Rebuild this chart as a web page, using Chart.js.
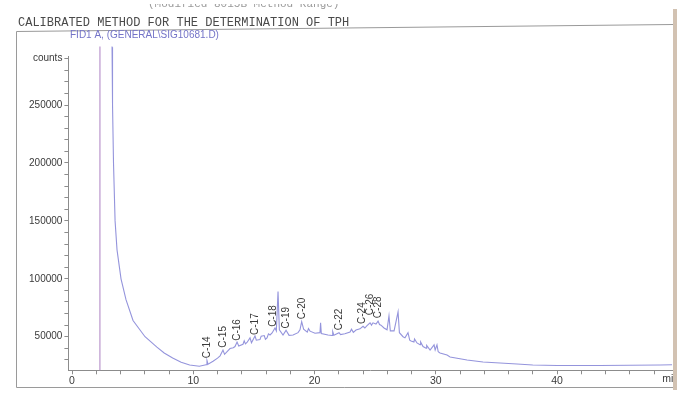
<!DOCTYPE html>
<html>
<head>
<meta charset="utf-8">
<script src="https://cdn.jsdelivr.net/npm/chart.js@4.4.0/dist/chart.umd.min.js"></script>
<style>
  html, body { margin: 0; padding: 0; background: #fff; }
  canvas { display: block; }
</style>
</head>
<body>
<canvas id="chromChart" width="697" height="394"></canvas>
<script>
// Trace: retention time (min) vs detector counts
const retentionTimes = [
  0, 2.30, 2.32, 3.29, 3.30, 3.34, 3.42, 3.55, 3.71, 4.04, 4.45, 5.03, 6.02, 7.00,
  7.60, 8.30, 9.00, 9.70, 10.50, 11.05, 11.13, 11.22, 11.63, 12.00, 12.21, 12.45, 12.58, 13.03,
  13.30, 13.44, 13.61, 13.75, 14.10, 14.20, 14.30, 14.43, 14.68, 14.80, 15.09, 15.20, 15.50, 15.60, 15.85, 15.95, 16.08,
  16.20, 16.33, 16.50, 16.74, 16.85, 16.99, 17.10, 17.40, 17.65, 17.90, 18.23, 18.64, 18.80, 18.94, 19.10,
  19.40, 19.50, 19.63, 20.04, 20.45, 20.50, 20.56, 21.11, 21.45, 21.50, 21.60, 22.02, 22.15, 22.50, 22.93, 23.05, 23.20, 23.42,
  23.75, 24.00, 24.15, 24.33, 24.58, 24.70, 24.82, 25.07, 25.24, 25.36, 25.48, 25.73, 25.98, 26.14,
  26.25, 26.56, 26.89, 27.00, 27.30, 27.46, 27.71, 27.85, 27.96, 28.20, 28.25, 28.45, 28.70, 28.75, 28.95, 29.20, 29.25, 29.53, 29.86, 29.95,
  30.10, 30.20, 30.35, 30.93, 31.18, 32.58, 33.90, 35.30, 36.70, 38.00, 40.00, 43.50, 46.00, 48.50, 49.50
];
const counts = [
  18000, 18000, 3000000, 3000000, 300000, 250000, 200000, 150000, 125000, 100000, 82000, 64000, 50000, 41000,
  36000, 31600, 28000, 25600, 24500, 25800, 29500, 26200, 28800, 31500, 33500, 38500, 34800, 39800,
  40500, 41500, 45400, 42000, 43500, 46500, 43800, 45000, 49000, 44800, 50600, 47000, 47500, 50500, 51000, 47800, 49000,
  52500, 51500, 53200, 57500, 55000, 89000, 56000, 51500, 55500, 51200, 51500, 53500, 56000, 63000, 56500,
  54000, 57000, 54800, 53000, 53500, 62000, 52800, 51500, 51000, 54500, 51200, 53500, 51800, 52500, 54000, 56500, 53800, 55800,
  56800, 59000, 57500, 59500, 62000, 60000, 62000, 61000, 63500, 60500, 60000, 57500, 56000, 68000,
  55000, 55000, 71500, 53500, 50000, 49000, 53500, 47000, 46300, 45500, 48000, 44600, 43000, 45500, 41500, 40000, 42500, 38500, 43000, 38500,
  43000, 37000, 36000, 34200, 32500, 29900, 28200, 27300, 26400, 25600, 25200, 25100, 25300, 25600, 25800
];

// n-alkane peak annotations
const peakNames = ['C-14', 'C-15', 'C-16', 'C-17', 'C-18', 'C-19', 'C-20', 'C-22', 'C-24', 'C-26', 'C-28'];
const peakTimes = [11.13, 12.45, 13.61, 15.09, 16.62, 17.70, 18.97, 22.02, 23.92, 24.58, 25.24];
const peakLabelCounts = [31500, 40500, 46500, 51500, 58500, 57000, 65000, 55500, 61000, 68500, 66000];

// axis ticks (minor every 2 min / 10000 counts)
const xTickValues = [0, 2, 4, 6, 8, 10, 12, 14, 16, 18, 20, 22, 24, 26, 28, 30, 32, 34, 36, 38, 40, 42, 44, 46, 48];
const yTickValues = [30000, 40000, 50000, 60000, 70000, 80000, 90000, 100000, 110000, 120000, 130000, 140000,
  150000, 160000, 170000, 180000, 190000, 200000, 210000, 220000, 230000, 240000, 250000, 260000, 270000, 280000, 290000];

const titleText = 'CALIBRATED METHOD FOR THE DETERMINATION OF TPH';
const headerText = '(Modified 8015B Method Range)';
const signalText = 'FID1 A, (GENERAL\\SIG10681.D)';

const pagePlugin = {
  id: 'page',
  beforeDraw(chart) {
    const ctx = chart.ctx;
    ctx.save();
    ctx.fillStyle = '#ffffff';
    ctx.fillRect(0, 0, chart.width, chart.height);
    ctx.restore();
  },
  afterDraw(chart) {
    const ctx = chart.ctx;
    const xs = chart.scales.x;
    const ys = chart.scales.y;
    const area = chart.chartArea;
    ctx.save();

    // cut-off header line at the very top of the scan
    ctx.save();
    ctx.beginPath();
    ctx.rect(0, 4, chart.width, 10);
    ctx.clip();
    ctx.fillStyle = '#9a9a9a';
    ctx.font = '11px "Liberation Mono", "DejaVu Sans Mono", monospace';
    ctx.textBaseline = 'alphabetic';
    ctx.fillText(headerText, 148, 7);
    ctx.restore();

    // report title
    ctx.fillStyle = '#4a4a4a';
    ctx.font = '12px "Liberation Mono", "DejaVu Sans Mono", monospace';
    ctx.fillText(titleText, 18, 26);

    // page frame
    ctx.strokeStyle = '#9a9a9a';
    ctx.lineWidth = 1;
    ctx.beginPath();
    ctx.moveTo(16.5, 387.5);
    ctx.lineTo(16.5, 31.5);
    ctx.lineTo(673, 24.5);
    ctx.moveTo(16.5, 387.5);
    ctx.lineTo(673, 387.5);
    ctx.stroke();

    // signal name
    ctx.fillStyle = '#7474c8';
    ctx.font = '10px "Liberation Sans", Arial, sans-serif';
    ctx.fillText(signalText, 70, 38);

    // peak labels, rotated
    ctx.fillStyle = '#3a3a3a';
    ctx.font = '10px "Liberation Sans", Arial, sans-serif';
    ctx.textAlign = 'left';
    ctx.textBaseline = 'middle';
    peakNames.forEach((name, i) => {
      const px = xs.getPixelForValue(peakTimes[i]);
      const py = ys.getPixelForValue(peakLabelCounts[i]);
      ctx.save();
      ctx.translate(px, py);
      ctx.rotate(-Math.PI / 2);
      ctx.fillText(name, 0, 0);
      ctx.restore();
    });

    // unit label at the end of the time axis
    ctx.fillStyle = '#3a3a3a';
    ctx.font = '10.5px "Liberation Sans", Arial, sans-serif';
    ctx.textBaseline = 'top';
    ctx.fillText('min', area.right - 10, area.bottom + 4);

    // scanned page edge on the right
    ctx.fillStyle = '#ffffff';
    ctx.fillRect(677, 0, chart.width - 677, chart.height);
    ctx.fillStyle = '#d2c2b2';
    ctx.fillRect(673, 9, 4, 381);
    ctx.restore();
  }
};

const ctx = document.getElementById('chromChart').getContext('2d');
const chart = new Chart(ctx, {
  type: 'line',
  data: {
    datasets: [{
      label: 'FID1 A',
      data: retentionTimes.map((t, i) => ({ x: t, y: counts[i] })),
      borderColor: '#9494dc',
      borderWidth: 1.1,
      pointRadius: 0,
      tension: 0,
      fill: false,
      clip: { left: 0, top: 10, right: 0, bottom: 0 },
      segment: {
        borderColor: c => (c.p0.parsed.x < 3.2 ? '#b48cc8' : undefined)
      }
    }]
  },
  options: {
    responsive: false,
    animation: false,
    devicePixelRatio: 1,
    layout: { padding: { top: 56.4, right: 24.8, bottom: 0, left: 0 } },
    plugins: {
      legend: { display: false },
      tooltip: { enabled: false },
      title: { display: false }
    },
    scales: {
      x: {
        type: 'linear',
        min: -0.3,
        max: 49.5,
        afterBuildTicks: scale => { scale.ticks = xTickValues.map(v => ({ value: v })); },
        afterFit: scale => { scale.height = 23.7; },
        border: { display: true, color: '#8c8c8c', width: 1 },
        grid: { drawOnChartArea: false, drawTicks: true, tickLength: 4, tickColor: '#8c8c8c' },
        ticks: {
          autoSkip: false,
          maxRotation: 0,
          padding: 1,
          color: '#3a3a3a',
          font: { family: '"Liberation Sans", Arial, sans-serif', size: 10.5 },
          callback: v => (v % 10 === 0 ? String(v) : '')
        }
      },
      y: {
        type: 'linear',
        min: 21000,
        max: 292000,
        afterBuildTicks: scale => { scale.ticks = yTickValues.map(v => ({ value: v })); },
        afterFit: scale => { scale.width = 68.4; },
        border: { display: true, color: '#8c8c8c', width: 1 },
        grid: { drawOnChartArea: false, drawTicks: true, tickLength: 4, tickColor: '#8c8c8c' },
        ticks: {
          autoSkip: false,
          padding: 2,
          color: '#3a3a3a',
          font: { family: '"Liberation Sans", Arial, sans-serif', size: 10 },
          callback: v => (v === 290000 ? 'counts' : (v % 50000 === 0 ? String(v) : ''))
        }
      }
    }
  },
  plugins: [pagePlugin]
});
</script>
</body>
</html>
